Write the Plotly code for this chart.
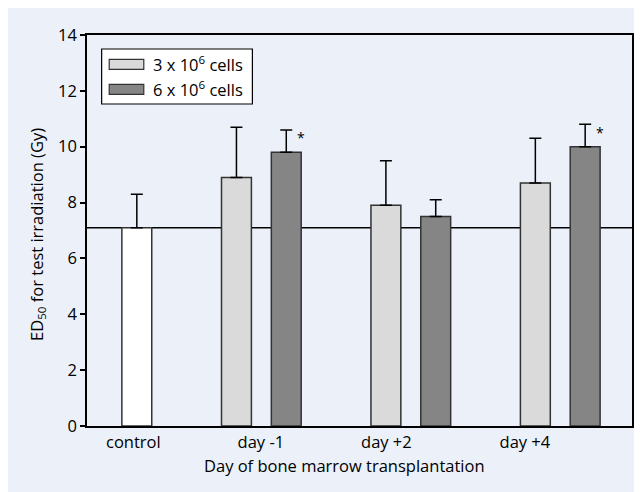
import plotly.graph_objects as go

# ---- data ----
categories = ["control", "day -1", "day +2", "day +4"]
control_value = [7.1]
control_err = [1.2]
series_names = ["3 x 10<sup>6</sup> cells", "6 x 10<sup>6</sup> cells"]
low_values = [8.9, 7.9, 8.7]      # 3 x 10^6 cells, day -1, +2, +4
low_err = [1.8, 1.6, 1.6]
high_values = [9.8, 7.5, 10.0]    # 6 x 10^6 cells
high_err = [0.8, 0.6, 0.8]
significant_high = [True, False, True]
reference_level = 7.1
y_ticks = [0, 2, 4, 6, 8, 10, 12, 14]

# ---- positions (axis units) ----
control_x = [1.0]
low_x = [3.0, 6.0, 9.0]
high_x = [4.0, 7.0, 10.0]
label_x = [0.93, 3.49, 6.01, 8.79]

FONT = "Open Sans"
FS = 16.5
LIGHT = "#D9DAD9"
DARK = "#858585"
BG = "#EBF0F9"
OUTLINE = "#333333"

OFF = 8  # page body margin
W, H = 634, 484
L, R, T, B = 79, 8, 27, 66
pw, ph = W - L - R, H - T - B

def px(x):  # screenshot x -> paper
    return (x - OFF - L) / pw

def py(y):  # screenshot y -> paper
    return (H - B - (y - OFF)) / ph

fig = go.Figure()

def err(arr):
    return dict(type="data", array=arr, arrayminus=[0] * len(arr), symmetric=False,
                color="black", thickness=1.5, width=6)

fig.add_trace(go.Bar(x=control_x, y=control_value, width=0.6, marker=dict(color="white", line=dict(color=OUTLINE, width=1.5)),
                     error_y=err(control_err), showlegend=False))
fig.add_trace(go.Bar(x=low_x, y=low_values, width=0.6, marker=dict(color=LIGHT, line=dict(color=OUTLINE, width=1.5)),
                     error_y=err(low_err), showlegend=False))
fig.add_trace(go.Bar(x=high_x, y=high_values, width=0.6, marker=dict(color=DARK, line=dict(color=OUTLINE, width=1.5)),
                     error_y=err(high_err), showlegend=False))

shapes = [
    dict(type="line", xref="paper", yref="y", x0=0, x1=1, y0=reference_level, y1=reference_level,
         line=dict(color="black", width=1.5), layer="below"),
    # legend
    dict(type="rect", xref="paper", yref="paper", x0=px(101.7), x1=px(253), y0=py(104), y1=py(49),
         fillcolor="white", line=dict(color="black", width=1.2)),
    dict(type="rect", xref="paper", yref="paper", x0=px(109.3), x1=px(144), y0=py(69.3), y1=py(59.3),
         fillcolor=LIGHT, line=dict(color=OUTLINE, width=1.2)),
    dict(type="rect", xref="paper", yref="paper", x0=px(109.3), x1=px(144), y0=py(94.3), y1=py(84.3),
         fillcolor=DARK, line=dict(color=OUTLINE, width=1.2)),
]

annotations = [
    dict(text=series_names[0], xref="paper", yref="paper", x=px(151), y=py(64), xanchor="left", yanchor="middle",
         showarrow=False, font=dict(family=FONT, size=FS, color="black")),
    dict(text=series_names[1], xref="paper", yref="paper", x=px(151), y=py(89), xanchor="left", yanchor="middle",
         showarrow=False, font=dict(family=FONT, size=FS, color="black")),
    dict(text="Day of bone marrow transplantation", xref="paper", yref="paper", x=px(345.8), y=py(465),
         xanchor="center", yanchor="middle", showarrow=False, font=dict(family=FONT, size=FS, color="black")),
    dict(text="ED<sub>50</sub> for test irradiation (Gy)", xref="paper", yref="paper", x=px(36.7), y=py(234),
         xanchor="center", yanchor="middle", textangle=-90, showarrow=False,
         font=dict(family=FONT, size=FS, color="black")),
]
for xv, v, e, sig in zip(high_x, high_values, high_err, significant_high):
    if sig:
        annotations.append(dict(text="*", x=xv + 0.18, y=v + e, xref="x", yref="y", xanchor="left",
                                yanchor="middle", yshift=-8, showarrow=False,
                                font=dict(family=FONT, size=14, color="black")))

fig.update_layout(
    width=W, height=H,
    margin=dict(l=L, r=R, t=T, b=B),
    paper_bgcolor=BG,
    plot_bgcolor=BG,
    font=dict(family=FONT, size=FS, color="black"),
    barmode="overlay",
    shapes=shapes,
    annotations=annotations,
    xaxis=dict(range=[0, (634 - 87) / 50], tickvals=label_x, ticktext=categories, ticks="",
               showline=True, linecolor="black", linewidth=1.5, mirror=True, showgrid=False,
               zeroline=False, tickfont=dict(family=FONT, size=FS)),
    yaxis=dict(range=[0, 14], tickvals=y_ticks, ticks="outside", ticklen=5, tickwidth=1.5, tickcolor="black",
               showline=True, linecolor="black", linewidth=1.5, mirror=True, showgrid=False,
               zeroline=False, tickfont=dict(family=FONT, size=FS)),
)

fig.write_html("out.html")
